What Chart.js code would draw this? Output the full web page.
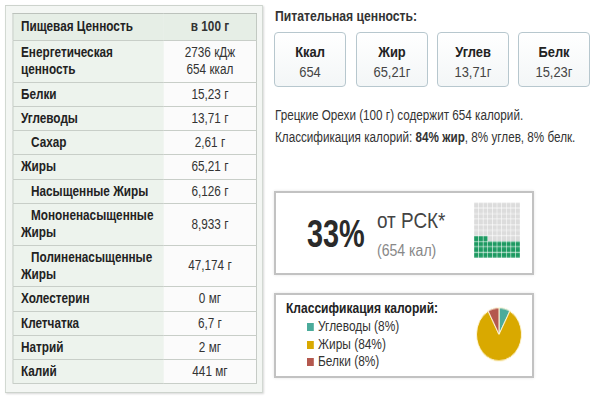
<!DOCTYPE html>
<html lang="ru">
<head>
<meta charset="utf-8">
<script src="https://cdn.jsdelivr.net/npm/chart.js@4"></script>
<style>
  body { margin: 0; width: 600px; height: 400px; background: #fff; overflow: hidden; position: relative;
         font-family: "Liberation Sans", Arial, sans-serif; color: #222; }
  /* шрифт в оригинале узкий — сжимаем по горизонтали */
  #panelWrap { position: absolute; left: 5px; top: 5px; transform: scaleX(0.84); transform-origin: 0 0; }
  #panel { position: relative; width: 305px; height: 386px; background: #f3f6f3;
           border: 1px solid #cdd3cd; box-shadow: 1px 1px 2px #d8d8d8; }
  #tbl { position: absolute; left: 8px; top: 7px; width: 291px; border-collapse: collapse; border: 1px solid #bcc2bc;
         font-size: 14px; line-height: 17.3px; }
  #tbl td { border-bottom: 1px solid #c8cec8; padding: 3px 9px; }
  #tbl td.lbl { width: 161px; background: #edf3ed; font-weight: bold; color: #222; }
  #tbl td.val { background: #fbfbfb; text-align: center; color: #333; white-space: nowrap; }
  #tbl tr.head td { background: #e6eee6; height: 20px; font-weight: bold; }
  #tbl td.sub { text-indent: 12px; }
  .nx { transform-origin: 0 50%; white-space: nowrap; }
  .title { position: absolute; left: 275px; top: 8px; font-size: 14px; font-weight: bold; color: #333; transform: scaleX(0.87); }
  .sbox { position: absolute; top: 32px; width: 70px; height: 53px; border: 1px solid #b7c7ce; border-radius: 4px;
          background: linear-gradient(#ffffff, #f3f6f7); text-align: center; }
  .sbox b { display: block; margin-top: 10px; font-size: 15px; color: #222; transform: scaleX(0.86); }
  .sbox span { display: block; margin-top: 3px; font-size: 15px; color: #444; transform: scaleX(0.86); }
  .line { position: absolute; left: 275px; font-size: 14px; color: #333; transform: scaleX(0.835); }
  .box { position: absolute; left: 274px; width: 256px; border: 2px solid #c2c2c2; background: #fff;
         box-shadow: 0 0 3px #e4e4e4; }
  #pct { position: absolute; left: 31px; top: 19px; font-size: 39px; font-weight: bold; color: #2a2a2a; transform: scaleX(0.74); }
  #rsk { position: absolute; left: 101px; top: 15px; font-size: 22px; color: #444; transform: scaleX(0.86); }
  #kal { position: absolute; left: 101px; top: 49px; font-size: 16px; color: #888; transform: scaleX(0.88); }
  #waffleWrap { position: absolute; left: 195px; top: 6px; width: 52px; height: 52px; transform: scaleY(1.2); transform-origin: 0 0; }
  #legTitle { position: absolute; left: 10px; top: 5px; font-size: 14px; font-weight: bold; color: #222; transform: scaleX(0.86); }
  #legend { position: absolute; left: 31px; top: 23px; font-size: 14px; color: #333; line-height: 17.5px; transform: scaleX(0.85); }
  #legend i { display: inline-block; width: 8px; height: 8px; margin-right: 5px; }
  #pieWrap { position: absolute; left: 199px; top: 11px; width: 48px; height: 48px; transform: scaleY(1.18); transform-origin: 0 0; }
</style>
</head>
<body>
<div id="panelWrap"><div id="panel"><table id="tbl"></table></div></div>
<div class="title nx">Питательная ценность:</div>
<div id="summary"></div>
<div class="line nx" style="top:107px">Грецкие Орехи (100 г) содержит 654 калорий.</div>
<div class="line nx" style="top:129px">Классификация калорий: <b>84% жир</b>, 8% углев, 8% белк.</div>
<div class="box" style="top:191px; height:80px">
  <div id="pct" class="nx"></div>
  <div id="rsk" class="nx">от РСК*</div>
  <div id="kal" class="nx"></div>
  <div id="waffleWrap"><canvas id="waffle"></canvas></div>
</div>
<div class="box" style="top:293px; height:81px">
  <div id="legTitle" class="nx">Классификация калорий:</div>
  <div id="legend" class="nx"></div>
  <div id="pieWrap"><canvas id="pie"></canvas></div>
</div>
<script>
// Пищевая ценность на 100 г
const tableHead = ['Пищевая Ценность', 'в 100 г'];
const nutrientNames = ['Енергетическая ценность', 'Белки', 'Углеводы', 'Сахар', 'Жиры', 'Насыщенные Жиры',
  'Мононенасыщенные Жиры', 'Полиненасыщенные Жиры', 'Холестерин', 'Клетчатка', 'Натрий', 'Калий'];
const nutrientValues = ['2736 кДж<br>654 ккал', '15,23 г', '13,71 г', '2,61 г', '65,21 г', '6,126 г',
  '8,933 г', '47,174 г', '0 мг', '6,7 г', '2 мг', '441 мг'];
const nutrientLevel = [0, 0, 0, 1, 0, 1, 1, 1, 0, 0, 0, 0]; // 1 = подпункт

// Карточки сверху
const summaryLabels = ['Ккал', 'Жир', 'Углев', 'Белк'];
const summaryValues = ['654', '65,21г', '13,71г', '15,23г'];

// РСК
const kcal = 654;
const rdaPercent = 33;

// Классификация калорий
const calorieCategories = ['Углеводы', 'Жиры', 'Белки'];
const caloriePercents = [8, 84, 8];
const calorieColors = ['#4bab9b', '#d9a900', '#b4584e'];

// таблица
let html = '<tr class="head"><td class="lbl">' + tableHead[0] + '</td><td class="val"><b>' + tableHead[1] + '</b></td></tr>';
nutrientNames.forEach(function (name, i) {
    html += '<tr><td class="lbl' + (nutrientLevel[i] ? ' sub' : '') + '">' + name + '</td><td class="val">' + nutrientValues[i] + '</td></tr>';
});
document.getElementById('tbl').innerHTML = html;

// карточки
const boxLeft = [274, 356, 437, 518];
let sHtml = '';
summaryLabels.forEach(function (lab, i) {
    sHtml += '<div class="sbox" style="left:' + boxLeft[i] + 'px"><b>' + lab + '</b><span>' + summaryValues[i] + '</span></div>';
});
document.getElementById('summary').innerHTML = sHtml;

document.getElementById('pct').textContent = rdaPercent + '%';
document.getElementById('kal').textContent = '(' + kcal + ' кал)';

// легенда
document.getElementById('legend').innerHTML = calorieCategories.map(function (c, i) {
    return '<div><i style="background:' + calorieColors[i] + '"></i>' + c + ' (' + caloriePercents[i] + '%)</div>';
}).join('');

Chart.defaults.animation = false;

// вафельная сетка 10x10: закрашено rdaPercent клеток снизу
const cells = [];
const cellColors = [];
for (let i = 0; i < 100; i++) {
    cells.push({ x: i % 10, y: Math.floor(i / 10) });
    cellColors.push(i < rdaPercent ? '#1e9a62' : '#dcdcdc');
}
new Chart(document.getElementById('waffle'), {
    type: 'scatter',
    data: { datasets: [{ data: cells, pointStyle: 'rect', pointRadius: 2.9, pointBackgroundColor: cellColors,
        pointBorderWidth: 0, pointHoverRadius: 2.9 }] },
    options: {
        responsive: true, maintainAspectRatio: false, events: [],
        layout: { padding: 0 },
        plugins: { legend: { display: false }, tooltip: { enabled: false } },
        scales: {
            x: { display: false, min: -0.5, max: 9.5 },
            y: { display: false, min: -0.5, max: 9.5 }
        }
    }
});

// круговая диаграмма
new Chart(document.getElementById('pie'), {
    type: 'pie',
    data: {
        labels: calorieCategories,
        datasets: [{ data: caloriePercents, backgroundColor: calorieColors, borderColor: '#fff6d8', borderWidth: 1 }]
    },
    options: {
        responsive: true, maintainAspectRatio: false, events: [],
        layout: { padding: 1 },
        plugins: { legend: { display: false }, tooltip: { enabled: false } }
    }
});
</script>
</body>
</html>
